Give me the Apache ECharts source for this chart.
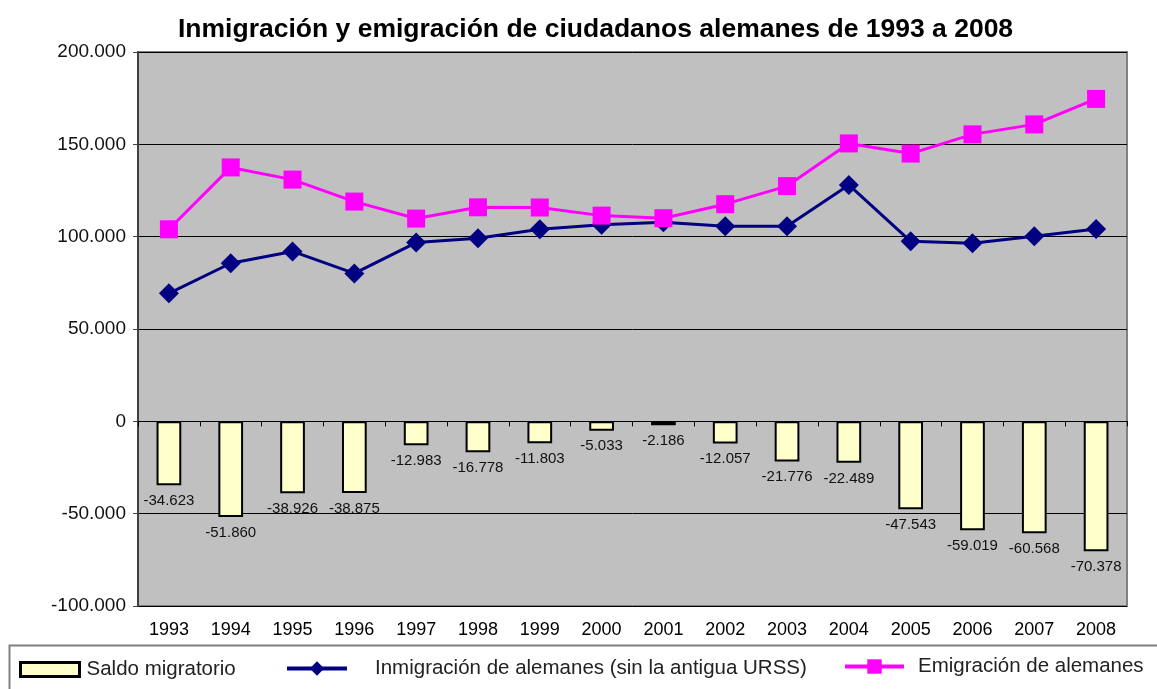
<!DOCTYPE html>
<html>
<head>
<meta charset="utf-8">
<script src="https://cdn.jsdelivr.net/npm/echarts@6/dist/echarts.min.js"></script>
<style>
html,body{margin:0;padding:0;background:#fff;}
#c{width:1157px;height:689px;}
</style>
</head>
<body>
<div id="c"></div>
<script>
var years = ['1993','1994','1995','1996','1997','1998','1999','2000','2001','2002','2003','2004','2005','2006','2007','2008'];
var saldo = [-34623,-51860,-38926,-38875,-12983,-16778,-11803,-5033,-2186,-12057,-21776,-22489,-47543,-59019,-60568,-70378];
var inmigracion = [69300,85600,92000,80100,96800,99100,104000,106400,107800,105600,105600,128000,97500,96400,100200,104200];
var emigracion = [104000,137500,130900,119000,109800,115900,115800,111400,110000,117600,127400,150500,145000,155400,160800,174600];
var yTicks = {min:-100000, max:200000, interval:50000};

function fmt(v){
  var s = Math.abs(Math.round(v)).toString().replace(/\B(?=(\d{3})+(?!\d))/g,'.');
  return (v<0?'-':'') + s;
}
var FONT = 'Liberation Sans, Arial, sans-serif';
var chart = echarts.init(document.getElementById('c'));
chart.setOption({
  backgroundColor:'#fff',
  animation:false,
  textStyle:{fontFamily:FONT},
  title:{
    text:'Inmigración y emigración de ciudadanos alemanes de 1993 a 2008',
    left:173, top:11,
    textStyle:{fontSize:26.5,fontWeight:'bold',color:'#000',fontFamily:FONT}
  },
  grid:{
    left:138, top:52, right:30, bottom:83,
    show:true, backgroundColor:'#C0C0C0', borderColor:'#808080', borderWidth:2
  },
  legend:[
    {data:['Saldo migratorio'], left:14, top:654, itemWidth:59, itemHeight:14, icon:'rect',
     itemStyle:{borderColor:'#000', borderWidth:3},
     textStyle:{fontSize:20.5,color:'#222',fontFamily:FONT,padding:[0,0,0,2]}},
    {data:['Inmigración de alemanes (sin la antigua URSS)'], left:280, top:653, itemWidth:60, itemHeight:18,
     lineStyle:{width:4},
     textStyle:{fontSize:20.5,color:'#222',fontFamily:FONT,padding:[0,0,0,23]}},
    {data:['Emigración de alemanes'], left:838, top:651, itemWidth:59, itemHeight:18,
     lineStyle:{width:4},
     textStyle:{fontSize:20.5,color:'#222',fontFamily:FONT,padding:[0,0,0,9]}}
  ],
  graphic:[{
    type:'rect', shape:{x:9.5,y:645.5,width:1160,height:60}, silent:true,
    style:{fill:null, stroke:'#808080', lineWidth:2}
  }],
  xAxis:[
    {type:'category', data:years, axisLine:{onZero:true, lineStyle:{color:'#000',width:1}},
     axisTick:{show:true, length:5, lineStyle:{color:'#000'}}, axisLabel:{show:false}, splitLine:{show:false}},
    {type:'category', data:years, position:'bottom', axisLine:{show:false, onZero:false},
     axisTick:{show:false}, axisLabel:{fontSize:18, color:'#000', margin:15, fontFamily:FONT}}
  ],
  yAxis:{
    type:'value', min:yTicks.min, max:yTicks.max, interval:yTicks.interval,
    axisLine:{show:true, lineStyle:{color:'#404040', width:2}},
    axisTick:{show:true, length:5, lineStyle:{color:'#404040'}},
    axisLabel:{fontSize:19, color:'#111', margin:12, formatter:function(v){return fmt(v);}, fontFamily:FONT},
    splitLine:{show:true, lineStyle:{color:'#000', width:1}}
  },
  series:[
    {name:'Saldo migratorio', type:'bar', data:saldo, xAxisIndex:0, barWidth:'40%',
     itemStyle:{color:'#FFFFCC', borderColor:'#000', borderWidth:2},
     label:{show:true, position:'bottom', distance:8, fontSize:15, color:'#111', fontFamily:FONT,
       formatter:function(p){return fmt(p.value);}},
     z:2},
    {name:'Inmigración de alemanes (sin la antigua URSS)', type:'line', data:inmigracion, xAxisIndex:0,
     symbol:'diamond', symbolSize:20, lineStyle:{color:'#000080', width:3},
     itemStyle:{color:'#000080'}, z:3},
    {name:'Emigración de alemanes', type:'line', data:emigracion, xAxisIndex:0,
     symbol:'rect', symbolSize:18, lineStyle:{color:'#FF00FF', width:3},
     itemStyle:{color:'#FF00FF'}, z:4}
  ]
});
</script>
</body>
</html>
